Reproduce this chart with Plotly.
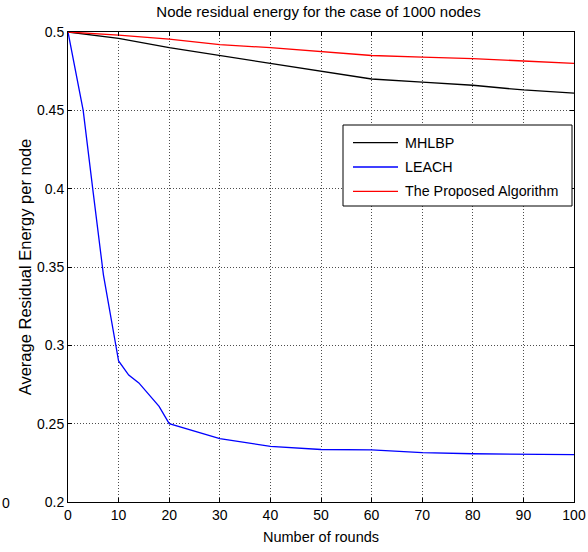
import plotly.graph_objects as go

rounds_mh = [0, 10, 20, 30, 40, 50, 60, 70, 80, 90, 100]
mhlbp = [0.5, 0.496, 0.490, 0.485, 0.480, 0.475, 0.470, 0.468, 0.466, 0.463, 0.461]

rounds_leach = [0, 3, 5, 7, 10, 12, 14, 18, 20, 30, 40, 50, 60, 70, 80, 90, 100]
leach = [0.5, 0.45, 0.397, 0.345, 0.29, 0.281, 0.276, 0.261, 0.25, 0.2405, 0.2355, 0.2335, 0.2333, 0.2315, 0.2308, 0.2303, 0.2302]

rounds_prop = [0, 10, 20, 30, 40, 50, 60, 70, 80, 90, 100]
proposed = [0.5, 0.498, 0.4955, 0.492, 0.490, 0.4875, 0.485, 0.484, 0.483, 0.4815, 0.480]

series_names = ["MHLBP", "LEACH", "The Proposed Algorithm"]
series_colors = ["black", "blue", "red"]

x_ticks = [0, 10, 20, 30, 40, 50, 60, 70, 80, 90, 100]
y_ticks = [0.2, 0.25, 0.3, 0.35, 0.4, 0.45, 0.5]
y_labels = ["0.2", "0.25", "0.3", "0.35", "0.4", "0.45", "0.5"]

font = "Liberation Sans, Arial, sans-serif"

fig = go.Figure()
for xs, ys, name, color in zip([rounds_mh, rounds_leach, rounds_prop],
                               [mhlbp, leach, proposed], series_names, series_colors):
    fig.add_trace(go.Scatter(x=xs, y=ys, mode="lines", name=name,
                             line=dict(color=color, width=1.3), showlegend=False))

axis_common = dict(showline=True, linecolor="black", linewidth=1, mirror="ticks",
                   ticks="inside", ticklen=4, tickcolor="black", automargin=False,
                   showgrid=True, gridcolor="#4d4d4d", gridwidth=1, griddash="1px,2px",
                   zeroline=False, tickfont=dict(family=font, size=14, color="black"))

fig.update_layout(
    width=588, height=552,
    margin=dict(l=68, r=14, t=32, b=50),
    paper_bgcolor="white", plot_bgcolor="white",
    font=dict(family=font, color="black"),
    title=dict(text="Node residual energy for the case of 1000 nodes", x=0.5417, xanchor="center",
               xref="container", y=1 - 12 / 552, yanchor="middle",
               font=dict(family=font, size=15, color="black")),
    xaxis=dict(range=[0, 100], tickvals=x_ticks, title=dict(text="Number of rounds", standoff=10,
               font=dict(family=font, size=14.5)), **axis_common),
    yaxis=dict(range=[0.2, 0.5], tickvals=y_ticks, ticktext=y_labels,
               title=dict(text="Average Residual Energy per node", standoff=1,
                          font=dict(family=font, size=16.5)), **axis_common),
    showlegend=False,
)

# manual legend box (pixel -> paper coords)
L, R, T, B = 68, 574, 32, 502
def px(x):
    return (x - L) / (R - L)
def py(y):
    return (B - y) / (B - T)

fig.add_shape(type="rect", xref="paper", yref="paper",
              x0=px(343), x1=px(572), y0=py(206), y1=py(125),
              line=dict(color="black", width=1), fillcolor="white", layer="above")
for i, (name, color) in enumerate(zip(series_names, series_colors)):
    yy = 142.7 + i * 24.3
    fig.add_shape(type="line", xref="paper", yref="paper",
                  x0=px(353), x1=px(398), y0=py(yy), y1=py(yy),
                  line=dict(color=color, width=1.3), layer="above")
    fig.add_annotation(text=name, xref="paper", yref="paper", x=px(403), y=py(yy),
                       xanchor="left", yanchor="middle", showarrow=False,
                       font=dict(family=font, size=14.3, color="black"))

fig.add_annotation(text="0", xref="paper", yref="paper", x=px(0), y=py(503),
                   xanchor="left", yanchor="middle", showarrow=False,
                   font=dict(family=font, size=14, color="black"))

fig.write_html("out.html")
